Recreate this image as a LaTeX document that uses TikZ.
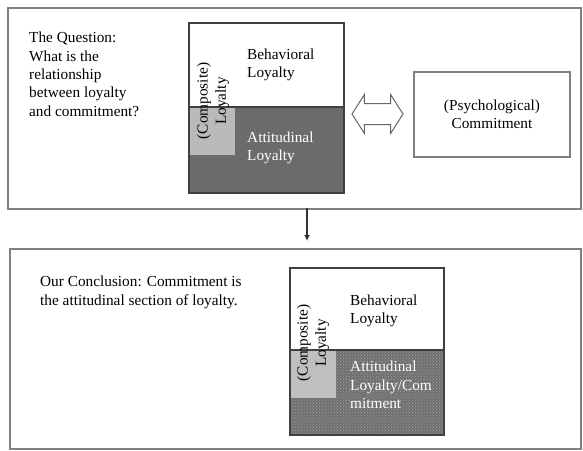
\documentclass[tikz,border=0pt]{standalone}
\usepackage{fontspec}
\setmainfont{Liberation Serif}
\usetikzlibrary{shapes.arrows,arrows.meta,patterns}

\begin{document}
\begin{tikzpicture}[x=1pt,y=-1pt,
    txt/.style={font=\fontsize{15.3}{18.3}\selectfont, inner sep=0pt, align=left},
    frame/.style={draw=black!50, line width=1.5pt},
    part/.style={draw=black!75, line width=1.2pt}]

      \useasboundingbox (0,0) rectangle (583,450);

      % the two panels
      \node[frame, minimum width=573pt, minimum height=201pt, anchor=north west] (question) at (7,7) {};
      \node[frame, minimum width=571pt, minimum height=200pt, anchor=north west] (conclusion) at (9,248) {};

      \node[txt, anchor=north west] (qtext) at (29,32) {The Question:\\What is the\\relationship\\between loyalty\\and commitment?};
      \node[txt, anchor=north west] (ctext) at (40,276) {Our Conclusion: Commitment is\\the attitudinal section of loyalty.};

      % composite loyalty, top
      \fill[black!58] (189,107) rectangle (344,193);
      \fill[black!27] (189,107) rectangle (235,155);
      \draw[part] (189,23) rectangle (344,193);
      \draw[part] (189,107) -- (344,107);

      \node[txt, anchor=west] (behav) at (247,65) {Behavioral\\Loyalty};
      \node[txt, anchor=west, text=white] (attit) at (247,148) {Attitudinal\\Loyalty};
      \node[txt, align=center, rotate=90] (comp) at (213,101) {(Composite)\\Loyalty};

      \node[double arrow, draw=black!60, fill=white, line width=1pt, minimum height=51pt,
            inner xsep=0pt, inner ysep=10pt, double arrow head extend=9pt,
            double arrow tip angle=115] (link) at (377.5,114) {};

      \node[frame, txt, align=center, minimum width=156pt, minimum height=85pt] (psych) at (492,114.5) {(Psychological)\\Commitment};

      \coordinate (q2c) at (307,208);
      \draw[-{Latex[length=6pt,width=6pt]}, line width=1.2pt, black!80, shorten >=7pt] (q2c) -- (q2c |- conclusion.north);

      % composite loyalty, bottom
      \fill[black!56] (290,350) rectangle (444,435);
      \fill[pattern=crosshatch dots, pattern color=black!38] (290,350) rectangle (444,435);
      \fill[black!25] (290,350) rectangle (336,398);
      \draw[part] (290,268) rectangle (444,435);
      \draw[part] (290,350) -- (444,350);

      \node[txt, anchor=west] (behav2) at (350,311) {Behavioral\\Loyalty};
      \node[txt, anchor=west, text=white] (attit2) at (350,385) {Attitudinal\\Loyalty/Com\\mitment};
      \node[txt, align=center, rotate=90] (comp2) at (313,343) {(Composite)\\Loyalty};

    \end{tikzpicture}
\end{document}
